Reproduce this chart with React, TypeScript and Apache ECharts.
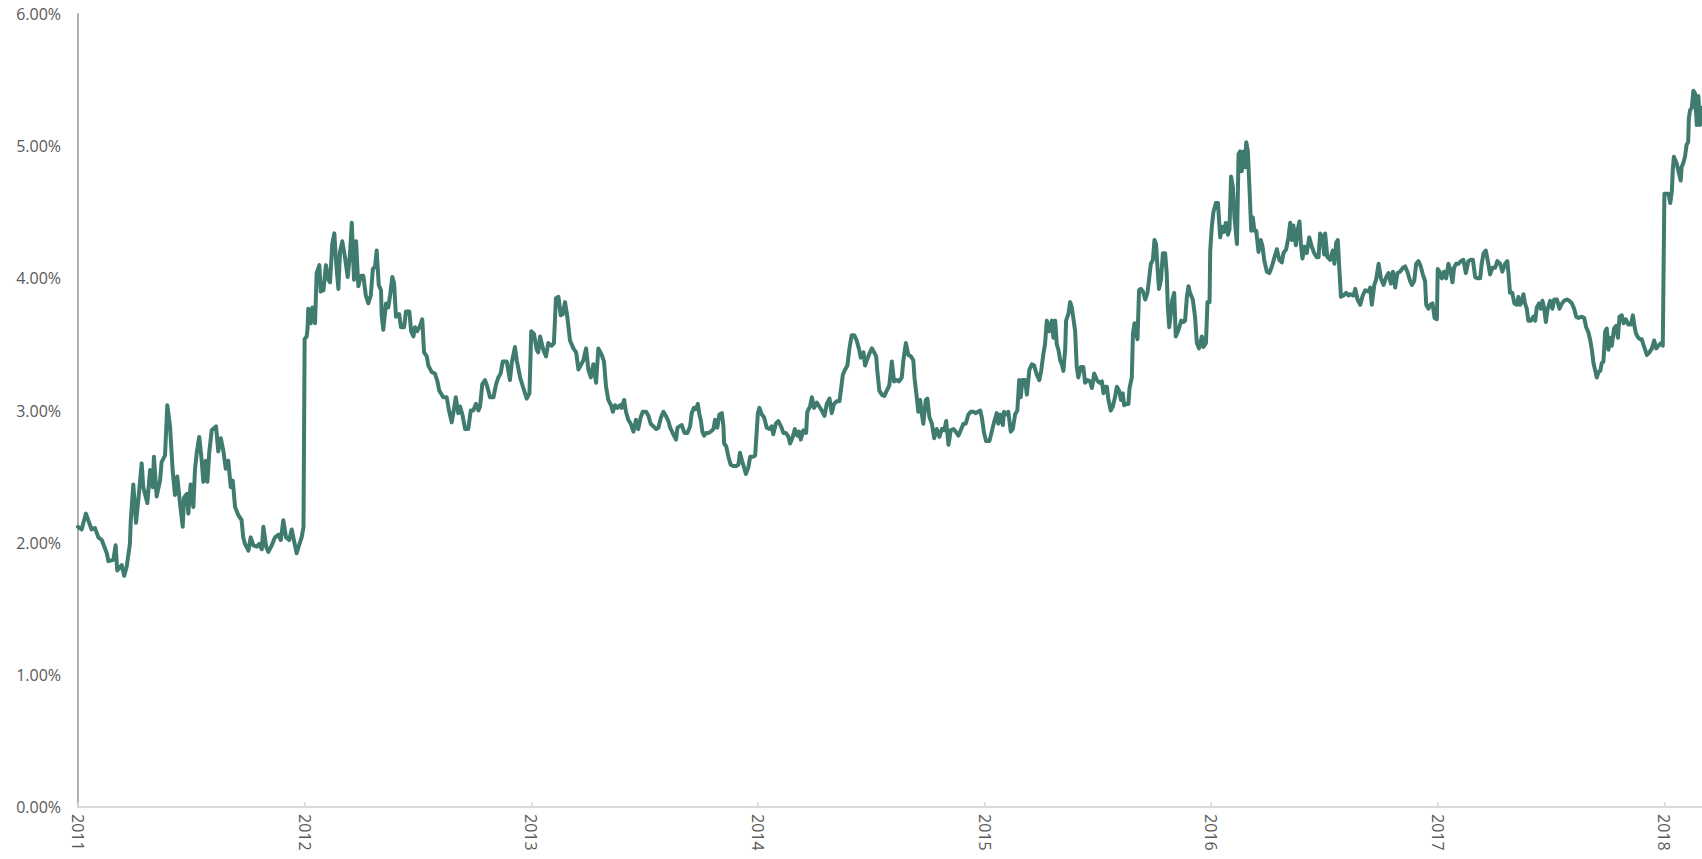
import React, { useEffect, useRef } from "react";
import * as echarts from "echarts";

// x tick labels (years) and y tick values (%)
const yearTicks = [2011, 2012, 2013, 2014, 2015, 2016, 2017, 2018];
const rateTicks = [0, 1, 2, 3, 4, 5, 6];
const xEnd = 2018.166;

// observations: [fraction of the year, rate in %]
const obs2011: number[][] = [[0.000,2.12],[0.016,2.10],[0.035,2.22],[0.045,2.17],[0.060,2.10],[0.075,2.11],[0.090,2.04],[0.105,2.02],[0.127,1.92],[0.134,1.86],[0.156,1.87],[0.166,1.98],[0.173,1.79],[0.193,1.83],[0.204,1.75],[0.215,1.82],[0.229,1.99],[0.233,2.17],[0.244,2.44],[0.256,2.15],[0.266,2.32],[0.281,2.60],[0.288,2.42],[0.306,2.30],[0.318,2.55],[0.330,2.42],[0.335,2.65],[0.347,2.35],[0.362,2.47],[0.369,2.61],[0.384,2.66],[0.394,3.04],[0.406,2.88],[0.418,2.54],[0.428,2.36],[0.438,2.50],[0.450,2.30],[0.462,2.12],[0.468,2.34],[0.480,2.37],[0.487,2.22],[0.497,2.44],[0.509,2.27],[0.516,2.55],[0.524,2.68],[0.535,2.80],[0.546,2.62],[0.553,2.46],[0.564,2.62],[0.571,2.46],[0.579,2.68],[0.590,2.85],[0.609,2.88],[0.619,2.69],[0.630,2.79],[0.641,2.70],[0.652,2.56],[0.663,2.62],[0.674,2.42],[0.683,2.47],[0.693,2.27],[0.707,2.21],[0.722,2.17],[0.729,2.04],[0.737,1.99],[0.752,1.94],[0.762,2.04],[0.774,1.98],[0.789,1.97],[0.799,1.99],[0.811,1.95],[0.818,2.12],[0.830,1.97],[0.840,1.93],[0.855,1.98],[0.869,2.04],[0.884,2.06],[0.895,2.02],[0.906,2.17],[0.918,2.04],[0.932,2.02],[0.943,2.10],[0.950,2.04],[0.965,1.92],[0.977,1.99],[0.987,2.04],[0.995,2.12]];

const obs2012: number[][] = [[0.000,3.54],[0.009,3.56],[0.013,3.62],[0.016,3.77],[0.027,3.66],[0.034,3.78],[0.046,3.66],[0.053,4.04],[0.065,4.10],[0.071,3.90],[0.083,3.91],[0.094,4.10],[0.105,3.99],[0.112,3.97],[0.122,4.26],[0.131,4.34],[0.139,4.12],[0.149,3.92],[0.156,4.20],[0.166,4.28],[0.178,4.16],[0.190,4.01],[0.200,4.18],[0.208,4.42],[0.218,3.99],[0.227,4.28],[0.237,3.94],[0.248,4.02],[0.259,4.02],[0.270,3.87],[0.281,3.81],[0.292,3.87],[0.301,4.07],[0.311,4.09],[0.318,4.21],[0.327,3.95],[0.337,3.91],[0.340,3.72],[0.347,3.61],[0.359,3.81],[0.369,3.78],[0.377,3.87],[0.387,4.01],[0.395,3.96],[0.403,3.71],[0.417,3.73],[0.425,3.63],[0.439,3.63],[0.447,3.75],[0.462,3.75],[0.470,3.60],[0.480,3.56],[0.487,3.63],[0.497,3.60],[0.509,3.64],[0.519,3.69],[0.527,3.44],[0.539,3.41],[0.546,3.34],[0.561,3.29],[0.575,3.28],[0.586,3.22],[0.594,3.15],[0.605,3.12],[0.612,3.10],[0.627,3.10],[0.637,3.00],[0.649,2.91],[0.656,2.98],[0.667,3.10],[0.678,2.98],[0.686,3.03],[0.696,2.97],[0.708,2.86],[0.722,2.86],[0.733,3.00],[0.744,3.00],[0.756,3.05],[0.767,3.00],[0.774,3.03],[0.784,3.20],[0.796,3.23],[0.806,3.18],[0.818,3.10],[0.833,3.10],[0.845,3.20],[0.855,3.25],[0.865,3.28],[0.874,3.37],[0.884,3.37],[0.892,3.37],[0.906,3.23],[0.914,3.36],[0.928,3.48],[0.936,3.38],[0.951,3.25],[0.965,3.17],[0.980,3.09],[0.992,3.13]];

const obs2013: number[][] = [[0.000,3.60],[0.012,3.58],[0.024,3.46],[0.031,3.44],[0.039,3.56],[0.053,3.46],[0.065,3.41],[0.075,3.51],[0.090,3.49],[0.100,3.51],[0.109,3.85],[0.120,3.86],[0.130,3.72],[0.139,3.73],[0.149,3.82],[0.159,3.71],[0.171,3.53],[0.186,3.47],[0.198,3.44],[0.208,3.31],[0.230,3.38],[0.242,3.47],[0.252,3.31],[0.263,3.25],[0.274,3.35],[0.286,3.21],[0.296,3.47],[0.311,3.42],[0.321,3.37],[0.330,3.18],[0.340,3.08],[0.352,3.04],[0.360,2.99],[0.370,3.04],[0.380,3.02],[0.392,3.04],[0.399,3.02],[0.410,3.08],[0.418,2.99],[0.428,2.93],[0.439,2.90],[0.451,2.84],[0.462,2.93],[0.472,2.86],[0.483,2.95],[0.492,2.99],[0.507,2.99],[0.517,2.96],[0.527,2.90],[0.539,2.88],[0.551,2.86],[0.561,2.87],[0.573,2.95],[0.583,2.99],[0.594,2.96],[0.605,2.92],[0.613,2.87],[0.624,2.83],[0.639,2.78],[0.645,2.87],[0.654,2.88],[0.664,2.89],[0.676,2.83],[0.689,2.83],[0.701,2.88],[0.708,2.98],[0.718,3.02],[0.726,3.01],[0.735,3.05],[0.742,2.97],[0.749,2.92],[0.755,2.84],[0.763,2.81],[0.771,2.83],[0.782,2.83],[0.792,2.84],[0.804,2.86],[0.811,2.93],[0.821,2.87],[0.830,2.97],[0.841,2.98],[0.848,2.88],[0.851,2.75],[0.860,2.73],[0.870,2.65],[0.880,2.59],[0.892,2.58],[0.904,2.58],[0.914,2.59],[0.921,2.68],[0.930,2.62],[0.939,2.57],[0.947,2.52],[0.958,2.57],[0.966,2.65],[0.978,2.65],[0.988,2.66]];

const obs2014: number[][] = [[0.000,2.98],[0.007,3.02],[0.017,2.97],[0.027,2.95],[0.039,2.87],[0.051,2.86],[0.061,2.88],[0.068,2.82],[0.079,2.90],[0.090,2.92],[0.102,2.88],[0.113,2.83],[0.124,2.83],[0.135,2.80],[0.142,2.75],[0.154,2.80],[0.163,2.86],[0.174,2.81],[0.182,2.84],[0.189,2.78],[0.201,2.85],[0.213,2.83],[0.218,2.99],[0.230,3.03],[0.238,3.10],[0.248,3.02],[0.260,3.06],[0.271,3.03],[0.282,3.00],[0.294,2.96],[0.304,3.05],[0.316,3.09],[0.326,2.98],[0.336,3.05],[0.348,3.07],[0.360,3.07],[0.366,3.15],[0.375,3.27],[0.385,3.31],[0.395,3.34],[0.404,3.47],[0.414,3.57],[0.425,3.57],[0.436,3.53],[0.447,3.46],[0.454,3.40],[0.466,3.44],[0.473,3.34],[0.483,3.39],[0.492,3.43],[0.503,3.47],[0.513,3.44],[0.522,3.41],[0.527,3.30],[0.536,3.15],[0.547,3.12],[0.558,3.11],[0.569,3.15],[0.580,3.19],[0.591,3.37],[0.601,3.22],[0.613,3.23],[0.623,3.22],[0.635,3.25],[0.642,3.38],[0.653,3.51],[0.664,3.42],[0.675,3.41],[0.686,3.38],[0.691,3.25],[0.701,3.10],[0.708,2.99],[0.716,3.08],[0.723,2.98],[0.730,2.90],[0.741,3.08],[0.748,3.09],[0.757,2.95],[0.768,2.90],[0.778,2.79],[0.789,2.86],[0.801,2.80],[0.812,2.86],[0.822,2.85],[0.831,2.92],[0.841,2.74],[0.851,2.85],[0.863,2.86],[0.873,2.84],[0.885,2.81],[0.895,2.85],[0.907,2.90],[0.917,2.90],[0.929,2.97],[0.939,2.99],[0.951,2.99],[0.962,2.98],[0.970,2.99],[0.981,3.00],[0.988,2.95],[0.998,2.83]];

const obs2015: number[][] = [[0.007,2.77],[0.022,2.77],[0.032,2.84],[0.042,2.91],[0.054,2.98],[0.061,2.90],[0.069,2.97],[0.081,2.89],[0.086,2.99],[0.098,2.97],[0.105,2.99],[0.116,2.84],[0.125,2.86],[0.135,2.97],[0.145,3.00],[0.153,3.23],[0.160,3.10],[0.167,3.23],[0.179,3.23],[0.187,3.12],[0.198,3.31],[0.209,3.35],[0.219,3.34],[0.231,3.27],[0.242,3.23],[0.250,3.30],[0.260,3.43],[0.267,3.50],[0.275,3.68],[0.286,3.60],[0.297,3.68],[0.304,3.55],[0.312,3.68],[0.319,3.50],[0.326,3.46],[0.334,3.38],[0.341,3.35],[0.348,3.30],[0.356,3.46],[0.360,3.68],[0.370,3.73],[0.378,3.82],[0.385,3.78],[0.392,3.70],[0.400,3.60],[0.407,3.33],[0.414,3.25],[0.425,3.33],[0.436,3.33],[0.444,3.21],[0.454,3.23],[0.466,3.22],[0.474,3.17],[0.484,3.28],[0.496,3.23],[0.507,3.21],[0.518,3.22],[0.525,3.13],[0.532,3.18],[0.540,3.18],[0.547,3.08],[0.557,3.00],[0.566,3.03],[0.576,3.10],[0.584,3.18],[0.594,3.15],[0.602,3.08],[0.610,3.13],[0.616,3.04],[0.625,3.05],[0.635,3.05],[0.640,3.17],[0.650,3.25],[0.655,3.58],[0.662,3.66],[0.669,3.58],[0.675,3.54],[0.682,3.91],[0.690,3.92],[0.699,3.90],[0.709,3.84],[0.719,3.89],[0.726,3.99],[0.734,4.11],[0.743,4.14],[0.750,4.29],[0.757,4.26],[0.763,4.09],[0.770,3.92],[0.779,3.99],[0.787,4.19],[0.797,4.19],[0.804,4.04],[0.809,3.78],[0.815,3.63],[0.822,3.73],[0.829,3.84],[0.837,3.89],[0.844,3.56],[0.856,3.61],[0.868,3.68],[0.878,3.67],[0.885,3.68],[0.893,3.86],[0.900,3.94],[0.907,3.89],[0.919,3.84],[0.929,3.71],[0.937,3.51],[0.947,3.47],[0.959,3.56],[0.966,3.48],[0.977,3.51],[0.984,3.82],[0.993,3.82],[0.996,4.21]];

const obs2016: number[][] = [[0.003,4.39],[0.010,4.50],[0.021,4.57],[0.030,4.57],[0.040,4.31],[0.048,4.39],[0.055,4.35],[0.065,4.42],[0.074,4.33],[0.081,4.37],[0.088,4.77],[0.096,4.69],[0.103,4.46],[0.114,4.26],[0.121,4.94],[0.128,4.96],[0.135,4.81],[0.143,4.96],[0.150,4.84],[0.155,5.03],[0.162,4.96],[0.169,4.69],[0.177,4.36],[0.184,4.46],[0.191,4.36],[0.199,4.36],[0.209,4.20],[0.219,4.29],[0.227,4.24],[0.234,4.14],[0.246,4.05],[0.257,4.04],[0.268,4.09],[0.278,4.15],[0.290,4.22],[0.301,4.14],[0.312,4.12],[0.319,4.19],[0.331,4.22],[0.341,4.31],[0.349,4.42],[0.356,4.29],[0.363,4.40],[0.374,4.25],[0.381,4.36],[0.390,4.43],[0.396,4.26],[0.403,4.15],[0.412,4.24],[0.422,4.19],[0.433,4.31],[0.444,4.24],[0.455,4.19],[0.466,4.16],[0.474,4.16],[0.481,4.34],[0.491,4.31],[0.499,4.18],[0.503,4.34],[0.513,4.16],[0.525,4.14],[0.537,4.21],[0.544,4.11],[0.552,4.27],[0.559,4.29],[0.565,4.09],[0.573,3.86],[0.584,3.87],[0.596,3.89],[0.606,3.87],[0.613,3.88],[0.628,3.87],[0.636,3.92],[0.646,3.84],[0.658,3.80],[0.669,3.87],[0.680,3.91],[0.694,3.90],[0.702,3.93],[0.709,3.80],[0.720,3.95],[0.728,3.99],[0.739,4.11],[0.749,4.00],[0.761,3.95],[0.773,4.01],[0.783,4.04],[0.793,3.96],[0.802,4.05],[0.812,3.93],[0.822,4.04],[0.834,4.05],[0.846,4.08],[0.856,4.09],[0.866,4.05],[0.878,3.98],[0.886,3.95],[0.896,3.98],[0.905,4.11],[0.915,4.13],[0.925,4.09],[0.934,4.03],[0.944,3.98],[0.949,3.80],[0.959,3.77],[0.967,3.80],[0.977,3.81],[0.986,3.70],[0.996,3.69]];

const obs2017: number[][] = [[0.000,4.07],[0.008,4.05],[0.018,4.00],[0.028,4.05],[0.037,4.00],[0.047,4.11],[0.055,4.07],[0.065,3.97],[0.072,4.08],[0.081,4.11],[0.091,4.11],[0.102,4.13],[0.113,4.14],[0.124,4.04],[0.135,4.13],[0.146,4.14],[0.155,4.14],[0.165,4.01],[0.175,4.00],[0.187,4.00],[0.194,4.11],[0.202,4.19],[0.212,4.21],[0.221,4.13],[0.231,4.03],[0.241,4.08],[0.253,4.08],[0.263,4.13],[0.275,4.11],[0.285,4.05],[0.297,4.11],[0.307,4.13],[0.312,4.04],[0.319,3.89],[0.329,3.89],[0.338,3.81],[0.349,3.80],[0.356,3.86],[0.363,3.80],[0.371,3.82],[0.378,3.88],[0.385,3.81],[0.393,3.77],[0.400,3.68],[0.411,3.68],[0.422,3.71],[0.430,3.68],[0.437,3.78],[0.447,3.81],[0.455,3.77],[0.462,3.83],[0.469,3.78],[0.477,3.67],[0.484,3.76],[0.496,3.83],[0.506,3.77],[0.514,3.84],[0.526,3.84],[0.537,3.77],[0.548,3.81],[0.558,3.83],[0.570,3.84],[0.581,3.83],[0.592,3.81],[0.602,3.77],[0.611,3.71],[0.621,3.70],[0.636,3.71],[0.646,3.70],[0.655,3.63],[0.665,3.59],[0.673,3.53],[0.680,3.46],[0.687,3.36],[0.702,3.25],[0.709,3.29],[0.717,3.30],[0.724,3.36],[0.731,3.37],[0.739,3.60],[0.746,3.62],[0.753,3.46],[0.761,3.55],[0.768,3.49],[0.778,3.62],[0.787,3.64],[0.795,3.55],[0.802,3.71],[0.812,3.72],[0.820,3.66],[0.830,3.69],[0.841,3.65],[0.852,3.65],[0.861,3.72],[0.868,3.64],[0.875,3.58],[0.885,3.55],[0.893,3.54],[0.900,3.54],[0.907,3.50],[0.915,3.46],[0.923,3.42],[0.934,3.44],[0.945,3.47],[0.955,3.53],[0.964,3.47],[0.974,3.49],[0.985,3.51],[0.993,3.49]];

const obs2018: number[][] = [[0.000,4.64],[0.008,4.64],[0.018,4.64],[0.026,4.57],[0.033,4.66],[0.037,4.82],[0.042,4.92],[0.054,4.87],[0.061,4.82],[0.072,4.74],[0.076,4.84],[0.083,4.87],[0.091,4.92],[0.098,5.01],[0.105,5.03],[0.108,5.21],[0.113,5.27],[0.121,5.29],[0.128,5.42],[0.135,5.40],[0.143,5.16],[0.150,5.38],[0.157,5.16],[0.164,5.29]];

const byYear: [number, number[][]][] = [
  [2011, obs2011], [2012, obs2012], [2013, obs2013], [2014, obs2014],
  [2015, obs2015], [2016, obs2016], [2017, obs2017], [2018, obs2018],
];

const seriesData: number[][] = byYear.flatMap(([yr, arr]) =>
  arr.map(([f, v]) => [yr + f, v])
);

const labelFont = {
  color: "#595959",
  fontSize: 16,
  fontFamily: "'Open Sans', 'Liberation Sans', sans-serif",
};

export default function App() {
  const ref = useRef<HTMLDivElement>(null);
  useEffect(() => {
    if (!ref.current) return;
    const chart = echarts.init(ref.current, undefined, { renderer: "svg" });
    chart.setOption({
      animation: false,
      backgroundColor: "#ffffff",
      grid: { left: 78, right: 0, top: 14, bottom: 52, containLabel: false },
      xAxis: {
        type: "value",
        min: 2011,
        max: xEnd,
        interval: 1,
        axisLine: { show: true, lineStyle: { color: "#d9d9d9", width: 2 } },
        axisTick: {
          show: true,
          inside: true,
          length: 5,
          customValues: yearTicks,
          lineStyle: { color: "#d9d9d9", width: 1.5 },
        },
        axisLabel: {
          ...labelFont,
          rotate: -90,
          margin: 7,
          customValues: yearTicks,
          formatter: (v: number) => String(Math.round(v)),
        },
        splitLine: { show: false },
      },
      yAxis: {
        type: "value",
        min: 0,
        max: 6,
        interval: 1,
        axisLine: { show: true, lineStyle: { color: "#b0b0b0", width: 2 } },
        axisTick: { show: false },
        axisLabel: {
          ...labelFont,
          margin: 17,
          customValues: rateTicks,
          formatter: (v: number) => v.toFixed(2) + "%",
        },
        splitLine: { show: false },
      },
      series: [
        {
          type: "line",
          data: seriesData,
          showSymbol: false,
          symbol: "none",
          lineStyle: { color: "#407b6f", width: 4, join: "round", cap: "round" },
          itemStyle: { color: "#407b6f" },
        },
      ],
    });
    return () => chart.dispose();
  }, []);
  return (
    <div
      ref={ref}
      style={{ position: "fixed", left: 0, top: 0, width: 1702, height: 859, background: "#fff" }}
    />
  );
}
